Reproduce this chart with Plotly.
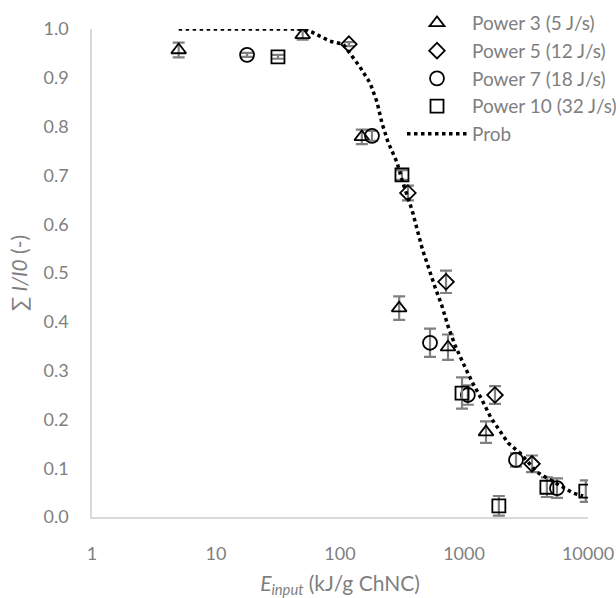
import plotly.graph_objects as go

# ---- data ----
p3_x = [5, 50, 150, 300, 743, 1504]
p3_y = [0.957, 0.988, 0.779, 0.428, 0.348, 0.174]
p3_e = [0.015, 0.01, 0.015, 0.024, 0.026, 0.022]

p5_x = [118, 353, 716, 1778, 3533]
p5_y = [0.969, 0.664, 0.482, 0.250, 0.109]
p5_e = [0.004, 0.015, 0.023, 0.018, 0.017]

p7_x = [17.8, 181, 532, 1074, 2627, 5623]
p7_y = [0.947, 0.781, 0.357, 0.250, 0.117, 0.059]
p7_e = [0.004, 0.01, 0.029, 0.02, 0.014, 0.02]

p10_x = [31.6, 316, 964, 1910, 4660, 9600]
p10_y = [0.943, 0.701, 0.254, 0.023, 0.061, 0.053]
p10_e = [0.004, 0.01, 0.032, 0.02, 0.02, 0.022]

prob_x = [5, 50, 59, 83, 106, 127, 145, 175, 199, 218, 244, 288, 316, 381, 418, 459,
          584, 665, 743, 846, 981, 1161, 1396, 1652, 2264, 2830, 3878, 4940, 6300, 7590, 9120]
prob_y = [1.0, 1.0, 0.994, 0.975, 0.969, 0.943, 0.922, 0.889, 0.850, 0.807, 0.768, 0.727,
          0.691, 0.629, 0.588, 0.551, 0.471, 0.432, 0.391, 0.352, 0.316, 0.277, 0.240,
          0.203, 0.152, 0.131, 0.092, 0.076, 0.061, 0.049, 0.043]

x_ticks = [1, 10, 100, 1000, 10000]
x_tick_text = ["1", "10", "100", "1000", "10000"]
y_ticks = [0.0, 0.1, 0.2, 0.3, 0.4, 0.5, 0.6, 0.7, 0.8, 0.9, 1.0]

FONT = "Lato"
GRAY = "#7f7f7f"
ERR = "#808080"

fig = go.Figure()

def add_series(x, y, e, name, symbol, size):
    fig.add_trace(go.Scatter(
        x=x, y=y, mode="markers", name=name,
        marker=dict(symbol=symbol, size=size, color="black",
                    line=dict(color="black", width=1.8)),
        error_y=dict(type="data", array=e, visible=True, color=ERR,
                     thickness=2.2, width=6),
    ))

add_series(p3_x, p3_y, p3_e, "Power 3 (5 J/s)", "triangle-up-open", 13)
add_series(p5_x, p5_y, p5_e, "Power 5 (12 J/s)", "diamond-open", 12)
add_series(p7_x, p7_y, p7_e, "Power 7 (18 J/s)", "circle-open", 14)
add_series(p10_x, p10_y, p10_e, "Power 10 (32 J/s)", "square-open", 13)

fig.add_trace(go.Scatter(
    x=prob_x, y=prob_y, mode="lines", name="Prob",
    line=dict(color="black", width=3.5, dash="3.5px,3.5px"),
))

fig.update_layout(
    width=616, height=598,
    margin=dict(l=92, r=28, t=29, b=81, autoexpand=False),
    paper_bgcolor="white", plot_bgcolor="white",
    font=dict(family=FONT, color=GRAY, size=18),
    showlegend=True,
    legend=dict(x=0.625, y=1.051, xanchor="left", yanchor="top",
                font=dict(family=FONT, size=19, color=GRAY),
                bgcolor="rgba(0,0,0,0)", itemwidth=60),
    xaxis=dict(
        type="log", range=[0, 4], automargin=False,
        tickvals=x_ticks, ticktext=x_tick_text,
        showgrid=False, zeroline=False,
        showline=True, linecolor="#d9d9d9", linewidth=1.5,
        ticks="outside", ticklen=20, tickcolor="rgba(0,0,0,0)",
        tickfont=dict(size=18, color=GRAY),
        title=dict(text="<i>E</i><sub><i>input</i></sub> (kJ/g ChNC)",
                   font=dict(size=21, color=GRAY), standoff=18),
    ),
    yaxis=dict(
        range=[0, 1.0], tickvals=y_ticks, tickformat=".1f", automargin=False,
        showgrid=False, zeroline=False,
        showline=True, linecolor="#d9d9d9", linewidth=1.5,
        ticks="outside", ticklen=18, tickcolor="rgba(0,0,0,0)",
        tickfont=dict(size=18, color=GRAY),
        title=dict(text="∑ <i>I/I0</i> (-)", font=dict(size=21, color=GRAY),
                   standoff=10),
    ),
)

# remove the default page margin so the 616x598 figure fills the window exactly
fig.write_html(
    "out.html",
    config={"displayModeBar": False},
    post_script="document.body.style.margin='0';document.body.style.overflow='hidden';",
)
